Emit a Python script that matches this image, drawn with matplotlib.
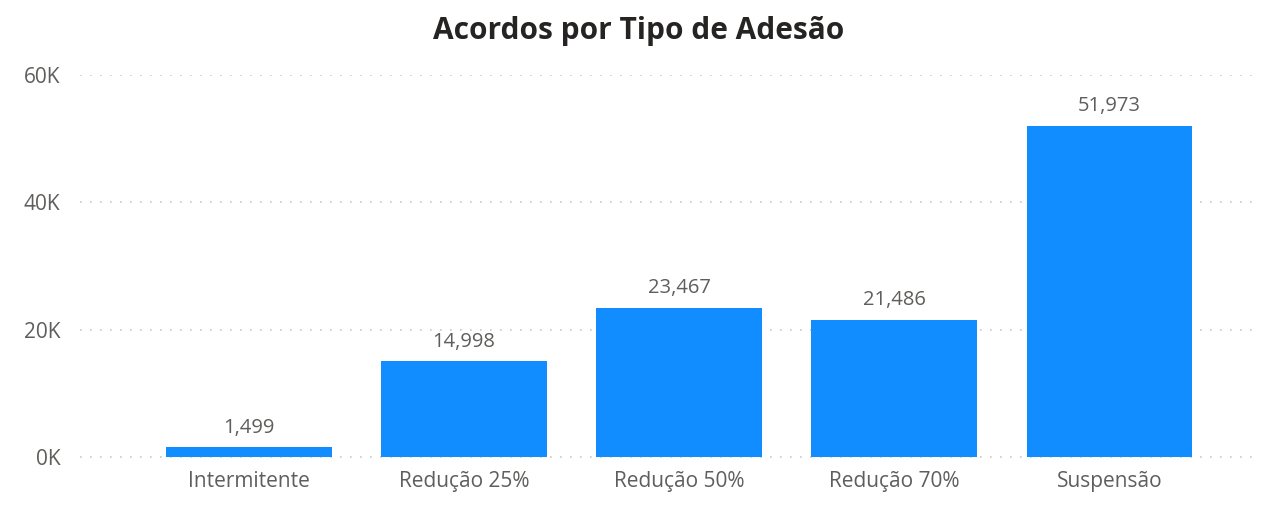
import matplotlib
matplotlib.use("Agg")
import matplotlib.pyplot as plt
from matplotlib.ticker import FuncFormatter

categories = ["Intermitente", "Redução 25%", "Redução 50%", "Redução 70%", "Suspensão"]
values = [1499, 14998, 23467, 21486, 51973]
yticks = [0, 20000, 40000, 60000]

plt.rcParams["font.family"] = ["Open Sans", "DejaVu Sans"]

fig = plt.figure(figsize=(12.77, 5.09), dpi=100)
ax = fig.add_axes([0.0626, 0.1022, 0.924, 0.7505])

x = list(range(len(categories)))
bars = ax.bar(x, values, width=0.77, color="#118DFF", zorder=2)

for b, v in zip(bars, values):
    ax.annotate("{:,}".format(v), (b.get_x() + b.get_width() / 2, v),
                xytext=(0, 7), textcoords="offset points",
                ha="center", va="bottom", fontsize=14.5, color="#605E5C")

ax.set_xlim(-0.786, 4.70)
ax.set_ylim(0, 60000)
ax.set_yticks(yticks)
ax.yaxis.set_major_formatter(FuncFormatter(lambda v, _p: "{:.0f}K".format(v / 1000)))
ax.set_xticks(x)
ax.set_xticklabels(categories)
ax.tick_params(axis="both", length=0, labelsize=15, labelcolor="#605E5C")
ax.tick_params(axis="x", pad=10)
ax.tick_params(axis="y", pad=14)

ax.grid(axis="y", linestyle=(0, (1, 5)), color="#C8C8C8", linewidth=1.2, zorder=0)
ax.yaxis.get_gridlines()[0].set_clip_on(False)
for s in ax.spines.values():
    s.set_visible(False)

fig.text(0.5, 0.94, "Acordos por Tipo de Adesão", ha="center", va="center",
         fontsize=21.5, fontweight="bold", color="#252423")

fig.savefig("out.png", dpi=100)
